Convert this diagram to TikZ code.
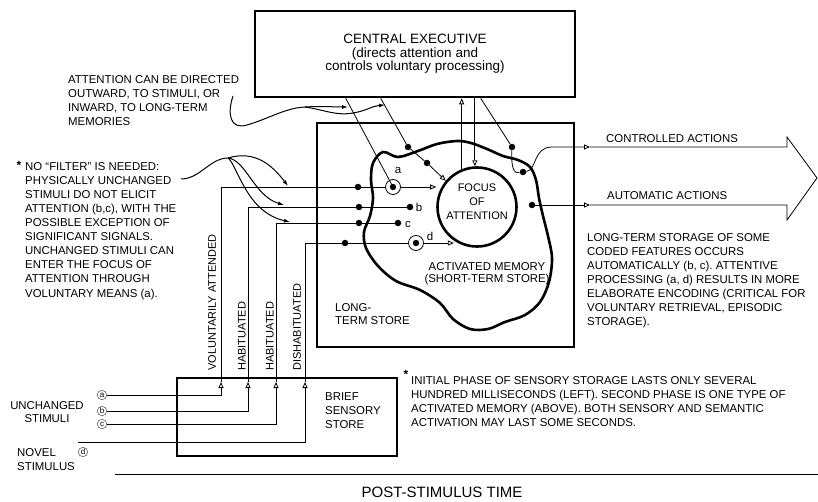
\documentclass[tikz,border=0pt]{standalone}
\usepackage{fontspec}
\setmainfont{Liberation Sans}
\usetikzlibrary{positioning, arrows.meta}
\frenchspacing

\begin{document}
\begin{tikzpicture}[
        x=1pt, y=-1pt,
        box/.style={rectangle, draw=black, line width=2.6pt, inner sep=0pt},
        note/.style={align=left, inner sep=0pt, anchor=base west, font=\fontsize{11.4}{14}\selectfont},
        dot/.style={circle, fill=black, inner sep=0pt, minimum size=6.5pt},
        ring/.style={circle, draw=black, line width=0.8pt, inner sep=0pt, minimum size=15pt},
        stim/.style={circle, draw=black!70, line width=0.5pt, inner sep=0pt, minimum size=9.5pt, font=\fontsize{8}{8}\selectfont},
        wire/.style={line width=0.8pt},
        arrow/.style={wire, -{Triangle[open, length=6pt, width=5pt]}},
        curvy/.style={line width=1pt, -{Latex[length=6pt, width=4pt]}},
        vlabel/.style={rotate=90, anchor=west, inner sep=0pt, font=\fontsize{11}{12}\selectfont},
        letter/.style={inner sep=0pt, font=\fontsize{11.5}{11.5}\selectfont},
        star/.style={inner sep=0pt, font=\bfseries\fontsize{12}{12}\selectfont}
    ]
    \useasboundingbox (0,0) rectangle (818,502);

    % stores
    \node[box, minimum width=320pt, minimum height=86pt, align=center, font=\fontsize{13.5}{13.5}\selectfont] (ce) at (415,54)
        {CENTRAL EXECUTIVE\\(directs attention and\\controls voluntary processing)};
    \node[box, minimum width=257pt, minimum height=224pt] (lts) at (445.5,235) {};
    \node[box, minimum width=220pt, minimum height=78pt] (bss) at (287,417) {};

    % activated memory
    \draw[line width=2.6pt] plot[smooth cycle, tension=0.55] coordinates {
        (373,163) (383,152) (398,157) (418,151) (437,144) (457,141) (471,143) (487,149)
        (503,156) (518,160) (530,167) (536,180) (539,198) (543,216) (548,236) (552,258)
        (549,282) (540,302) (525,315) (505,322) (488,329) (470,329) (453,319) (440,303)
        (420,290) (396,281) (378,266) (366,248) (364,232) (370,216) (373,198) (371,180)};
    \node[circle, draw=black, line width=2.6pt, minimum size=79pt, inner sep=0pt] (focus) at (477,207) {};
    \node[align=center, inner sep=0pt, font=\fontsize{11}{14}\selectfont] (focustxt) at ([yshift=5pt]focus.center) {FOCUS\\OF\\ATTENTION};

    \node[align=center, inner sep=0pt, anchor=base, font=\fontsize{11.4}{13}\selectfont] (amem) at (487,283)
        {ACTIVATED MEMORY\\(SHORT-TERM STORE)};
    \node[note, font=\fontsize{11.4}{13}\selectfont] (ltstxt) at (335,324) {LONG-\\TERM STORE};
    \node[note] (bsstxt) at (325,428) {BRIEF\\SENSORY\\STORE};

    % dots and rings
    \node[dot] (a1) at (358,187) {};
    \node[ring] (ra) at (393,187) {};
    \fill (ra) circle (3.2pt);
    \node[dot] (b1) at (359,207) {};
    \node[dot] (b2) at (410,207) {};
    \node[dot] (c1) at (359,223) {};
    \node[dot] (c2) at (398,223) {};
    \node[dot] (d1) at (345,243) {};
    \node[ring] (rd) at (416,243) {};
    \fill (rd) circle (3.2pt);
    \node[dot] (e1) at (408,147) {};
    \node[dot] (e2) at (427,163) {};
    \node[dot] (f1) at (512,147) {};
    \node[dot] (f2) at (523,172) {};
    \node[dot] (g1) at (532,205) {};

    \node[letter] (la) at (398,170) {a};
    \node[letter] (lb) at (419,207) {b};
    \node[letter] (lc) at (408,224) {c};
    \node[letter] (ld) at (430,236) {d};

    % stimuli into the sensory store
    \node[stim] (sa) at (102,395) {a};
    \node[stim] (sb) at (102,411) {b};
    \node[stim] (sc) at (102,424) {c};
    \node[stim] (sd) at (83,452) {d};
    \coordinate (nov) at (78,442);
    \coordinate (ta) at (221,382);
    \coordinate (tb) at (248,382);
    \coordinate (tc) at (276,382);
    \coordinate (td) at (305,382);

    \draw[arrow] (sa.east) -| (ta);
    \draw[arrow] (sb.east) -| (tb);
    \draw[arrow] (sc.east) -| (tc);
    \draw[arrow] (nov) -| (td);

    \draw[wire] (ta) |- (ra.west);
    \draw[arrow] (ra.east) -- (ra.east -| focus.west);
    \draw[wire] (tb) |- (b2);
    \draw[wire] (tc) |- (c2);
    \draw[wire] (td) |- (rd.west);
    \draw[arrow] (rd.east) -- ++(30,0);

    \node[vlabel] (vol) at (212,371) {VOLUNTARILY ATTENDED};
    \node[vlabel] (hab1) at (242,371) {HABITUATED};
    \node[vlabel] (hab2) at (270,371) {HABITUATED};
    \node[vlabel] (dis) at (297,371) {DISHABITUATED};

    % executive links
    \draw[wire] ([xshift=92pt]ce.south west) -- (ra.center);
    \draw[arrow] ([xshift=127pt]ce.south west) -- (e1) -- (e2) -- (focus.140);
    \draw[arrow] (focus.112) -- (focus.112 |- ce.south);
    \draw[arrow] (focus.93 |- ce.south) -- (focus.93);
    \draw[wire] ([xshift=227pt]ce.south west) -- (f1);
    \draw[wire] (f1) .. controls (511,168) and (514,174) .. (f2);

    % actions
    \coordinate (ctl) at (590,147);
    \coordinate (aut) at (590,205);
    \draw[arrow] (f2) .. controls (537,170) and (533,147) .. (552,147) -- (ctl);
    \draw[arrow] (g1) -- (aut);
    \draw[wire] (ctl) -- (787,147) -- (787,137) -- (817,178) -- (787,220) -- (787,205) -- (aut);
    \node[note] (ctltxt) at (606,143) {CONTROLLED ACTIONS};
    \node[note] (auttxt) at (607,200) {AUTOMATIC ACTIONS};

    % notes
    \node[note] (attn) at (68,126) {ATTENTION CAN BE DIRECTED\\OUTWARD, TO STIMULI, OR\\INWARD, TO LONG-TERM\\MEMORIES};
    \coordinate (attnhook) at (233,96);
    \coordinate (attnsplit) at (305,107);
    \draw[line width=1pt] (attnhook) .. controls (227,114) and (230,130) .. (247,125) .. controls (268,119) and (285,108) .. (attnsplit);
    \draw[curvy] (attnsplit) .. controls (320,106) and (335,107) .. (348,107);
    \draw[curvy] (attnsplit) .. controls (325,110) and (336,116) .. (353,113) .. controls (366,111) and (372,106) .. (385,105);

    \node[star] (ast1) at (19,165) {*};
    \node[note, font=\fontsize{11.4}{14.1}\selectfont] (filter) at (25,297)
        {NO ``FILTER'' IS NEEDED:\\PHYSICALLY UNCHANGED\\STIMULI DO NOT ELICIT\\ATTENTION (b,c), WITH THE\\POSSIBLE EXCEPTION OF\\SIGNIFICANT SIGNALS.\\UNCHANGED STIMULI CAN\\ENTER THE FOCUS OF\\ATTENTION THROUGH\\VOLUNTARY MEANS (a).};
    \coordinate (filtstart) at (181,179);
    \coordinate (filtsplit) at (228,158);
    \draw[line width=1pt] (filtstart) .. controls (200,179) and (210,158) .. (filtsplit);
    \draw[curvy] (filtsplit) .. controls (255,150) and (272,165) .. (288,186);
    \draw[curvy] (filtsplit) .. controls (246,160) and (254,196) .. (284,205);
    \draw[curvy] (filtsplit) .. controls (238,166) and (246,212) .. (290,222);

    \node[note] (storage) at (587,325) {LONG-TERM STORAGE OF SOME\\CODED FEATURES OCCURS\\AUTOMATICALLY (b, c). ATTENTIVE\\PROCESSING (a, d) RESULTS IN MORE\\ELABORATE ENCODING (CRITICAL FOR\\VOLUNTARY RETRIEVAL, EPISODIC\\STORAGE).};
    \node[star] (ast2) at (406,374) {*};
    \node[note, font=\fontsize{11.4}{13.7}\selectfont] (initial) at (411,426)
        {INITIAL PHASE OF SENSORY STORAGE LASTS ONLY SEVERAL\\HUNDRED MILLISECONDS (LEFT). SECOND PHASE IS ONE TYPE OF\\ACTIVATED MEMORY (ABOVE). BOTH SENSORY AND SEMANTIC\\ACTIVATION MAY LAST SOME SECONDS.};

    \node[align=center, inner sep=0pt, anchor=base, font=\fontsize{11.4}{13}\selectfont] (unch) at (47,422) {UNCHANGED\\STIMULI};
    \node[note] (novel) at (17,470) {NOVEL\\STIMULUS};

    % time axis
    \draw[wire] (115,474) -- (818,474);
    \node[inner sep=0pt, anchor=base, font=\fontsize{15}{15}\selectfont] (time) at (442,497) {POST-STIMULUS TIME};
\end{tikzpicture}
\end{document}
